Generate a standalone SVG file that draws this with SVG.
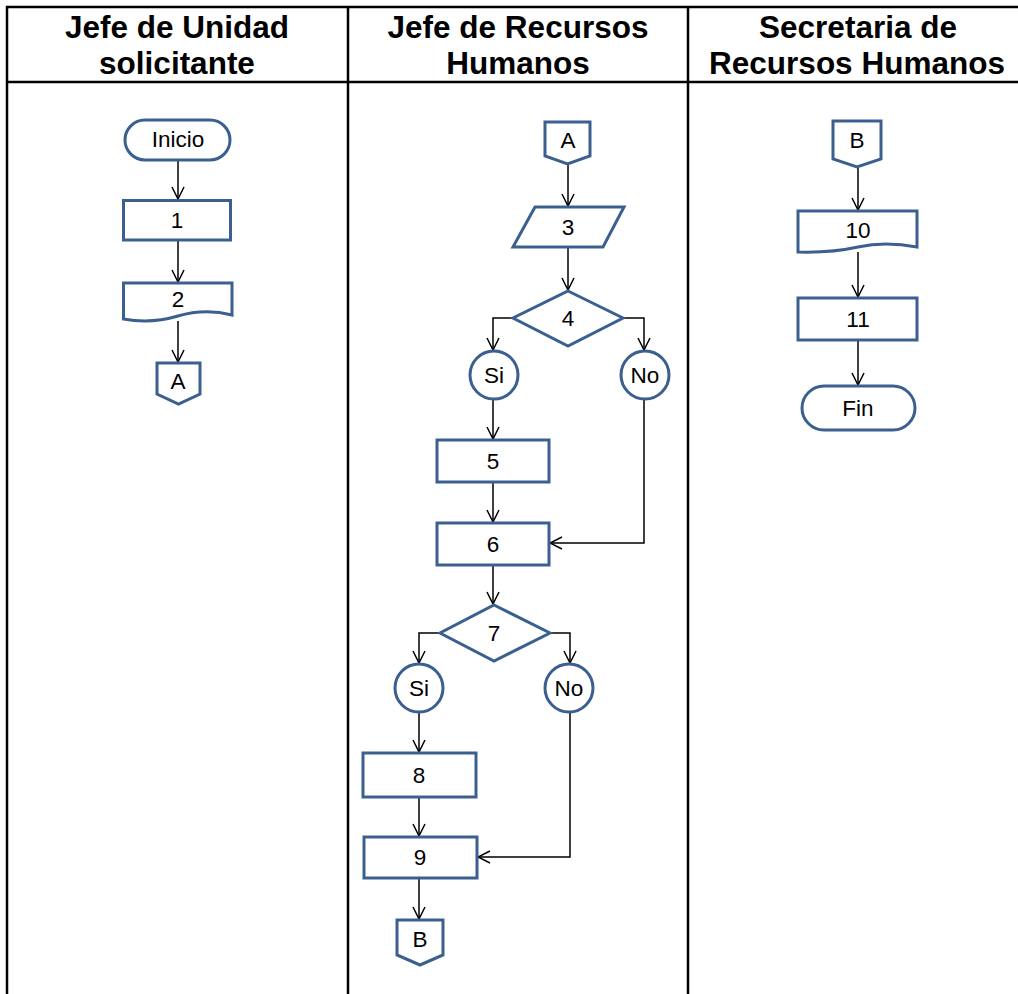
<svg xmlns="http://www.w3.org/2000/svg" width="1018" height="994" viewBox="0 0 1018 994">
<style>
.grid{stroke:#000;stroke-width:2.5;fill:none}
.hd{font-family:"Liberation Sans",Arial,sans-serif;font-weight:bold;font-size:31.5px;fill:#000;text-anchor:middle}
.sh{fill:#fff;stroke:#3b6090;stroke-width:3}
.lb{font-family:"Liberation Sans",Arial,sans-serif;font-size:22.5px;fill:#000;text-anchor:middle}
.cn{fill:none;stroke:#000;stroke-width:1.5;marker-end:url(#ah)}
</style>
<defs>
<marker id="ah" viewBox="0 0 14 14" refX="13" refY="7" markerWidth="14" markerHeight="14" markerUnits="userSpaceOnUse" orient="auto">
<path d="M1,1 L13,7 L1,13" fill="none" stroke="#000" stroke-width="1.5"/>
</marker>
</defs>
<rect width="1018" height="994" fill="#fff"/>
<g id="table">
<line class="grid" x1="6" y1="7" x2="1018" y2="7"/>
<line class="grid" x1="6" y1="82" x2="1018" y2="82"/>
<line class="grid" x1="7" y1="6" x2="7" y2="994"/>
<line class="grid" x1="348" y1="6" x2="348" y2="994"/>
<line class="grid" x1="688" y1="6" x2="688" y2="994"/>
<text class="hd" x="177" y="38">Jefe de Unidad</text>
<text class="hd" x="177" y="74">solicitante</text>
<text class="hd" x="518" y="38">Jefe de Recursos</text>
<text class="hd" x="518" y="74">Humanos</text>
<text class="hd" x="858" y="38">Secretaria de</text>
<text class="hd" x="857" y="74">Recursos Humanos</text>
</g>
<g id="connectors">
<path class="cn" d="M178,161 V199"/>
<path class="cn" d="M178,241 V282"/>
<path class="cn" d="M178,321 V362"/>
<path class="cn" d="M568,165 V206"/>
<path class="cn" d="M568,248 V290"/>
<path class="cn" d="M513,318 H493 V350"/>
<path class="cn" d="M623,318 H644 V350"/>
<path class="cn" d="M493,399 V439"/>
<path class="cn" d="M493,482 V522"/>
<path class="cn" d="M644,399 V543 H550"/>
<path class="cn" d="M493,565 V604"/>
<path class="cn" d="M440,633 H419 V663"/>
<path class="cn" d="M550,633 H570 V663"/>
<path class="cn" d="M419,713 V752"/>
<path class="cn" d="M419,797 V836"/>
<path class="cn" d="M570,713 V857 H478"/>
<path class="cn" d="M419,878 V919"/>
<path class="cn" d="M858,168 V210"/>
<path class="cn" d="M858,252 V297"/>
<path class="cn" d="M858,341 V385"/>
</g>
<g id="inicio"><rect class="sh" x="125" y="120" width="105" height="40" rx="20"/><text class="lb" x="178" y="147">Inicio</text></g>
<g id="n1"><rect class="sh" x="123.5" y="200.5" width="107" height="39.5"/><text class="lb" x="177" y="228">1</text></g>
<g id="n2"><path class="sh" d="M123.5,283 H232 V315 Q205,308 178,316 T123.5,319 Z"/><text class="lb" x="178" y="307">2</text></g>
<g id="connA1"><polygon class="sh" points="157,363 200,363 200,394 178.5,404 157,394"/><text class="lb" x="178" y="389">A</text></g>
<g id="connA2"><polygon class="sh" points="545,122 590,122 590,156 567.5,164 545,156"/><text class="lb" x="568" y="148">A</text></g>
<g id="n3"><polygon class="sh" points="535,207 624,207 603,247 513,247"/><text class="lb" x="568" y="235">3</text></g>
<g id="n4"><polygon class="sh" points="568,291 623,318 568,346 513,318"/><text class="lb" x="568" y="326">4</text></g>
<g id="si1"><circle class="sh" cx="494" cy="375" r="24"/><text class="lb" x="494" y="383">Si</text></g>
<g id="no1"><circle class="sh" cx="645" cy="375" r="24"/><text class="lb" x="645" y="383">No</text></g>
<g id="n5"><rect class="sh" x="437" y="440" width="112" height="42"/><text class="lb" x="493" y="469">5</text></g>
<g id="n6"><rect class="sh" x="437" y="523" width="112" height="42"/><text class="lb" x="493" y="552">6</text></g>
<g id="n7"><polygon class="sh" points="494,605 550,633 494,661 440,633"/><text class="lb" x="494" y="641">7</text></g>
<g id="si2"><circle class="sh" cx="419" cy="688" r="24"/><text class="lb" x="419" y="696">Si</text></g>
<g id="no2"><circle class="sh" cx="569" cy="688" r="24"/><text class="lb" x="569" y="696">No</text></g>
<g id="n8"><rect class="sh" x="363" y="753" width="113" height="44"/><text class="lb" x="419" y="783">8</text></g>
<g id="n9"><rect class="sh" x="364" y="837" width="113" height="41"/><text class="lb" x="420" y="865">9</text></g>
<g id="connB1"><polygon class="sh" points="397,920 443,920 443,955 420,965 397,955"/><text class="lb" x="420" y="947">B</text></g>
<g id="connB2"><polygon class="sh" points="833,121 881,121 881,159 857,167 833,159"/><text class="lb" x="857" y="148">B</text></g>
<g id="n10"><path class="sh" d="M798,211 H917 V247 Q885,241 858,247 T798,252 Z"/><text class="lb" x="858" y="238">10</text></g>
<g id="n11"><rect class="sh" x="798" y="298" width="119" height="42"/><text class="lb" x="858" y="327">11</text></g>
<g id="fin"><rect class="sh" x="802" y="386" width="113" height="44" rx="22"/><text class="lb" x="858" y="416">Fin</text></g>
</svg>
